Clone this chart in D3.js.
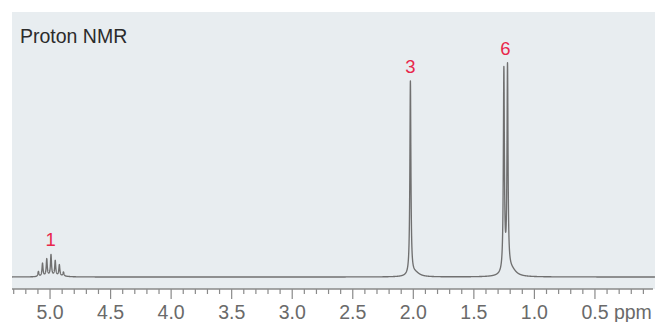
<!DOCTYPE html>
<html>
<head>
<meta charset="utf-8">
<script src="https://cdn.jsdelivr.net/npm/d3@7"></script>
<style>
  html, body { margin: 0; padding: 0; background: #ffffff; }
  svg { display: block; }
  text { font-family: "Liberation Sans", Arial, Helvetica, sans-serif; }
</style>
</head>
<body>
<svg id="chart" width="655" height="322"></svg>
<script>
// ---- Data ----
const chartTitle = "Proton NMR";
// individual resonance lines: chemical shift (ppm) and intensity (relative units)
const linePpm    = [5.092, 5.058, 5.023, 4.988, 4.953, 4.919, 4.885, 2.020, 1.248, 1.218];
const lineHeight = [5, 13, 17, 21, 15, 11, 4, 194, 202, 203];
// integration labels
const labelText = ["1", "3", "6"];
const labelPpm  = [4.99, 2.02, 1.235];
// axis ticks
const majorTicks = [5.0, 4.5, 4.0, 3.5, 3.0, 2.5, 2.0, 1.5, 1.0, 0.5];
const majorTickLabels = ["5.0", "4.5", "4.0", "3.5", "3.0", "2.5", "2.0", "1.5", "1.0", "0.5"];
const minorTicks = [5.3,5.2,5.1,4.9,4.8,4.7,4.6,4.4,4.3,4.2,4.1,3.9,3.8,3.7,3.6,3.4,3.3,3.2,3.1,
                    2.9,2.8,2.7,2.6,2.4,2.3,2.2,2.1,1.9,1.8,1.7,1.6,1.4,1.3,1.2,1.1,0.9,0.8,0.7,0.6,
                    0.4,0.3,0.2,0.1];
const axisUnit = "ppm";

// ---- Layout ----
const svg = d3.select("#chart");
const panel = { left: 12, top: 12, right: 655, bottom: 289 };
const x = d3.scaleLinear().domain([5.31, 0.0]).range([panel.left, 655]);
const y = d3.scaleLinear().domain([0, 220]).range([277, 57]);

svg.append("rect")
  .attr("x", panel.left).attr("y", panel.top)
  .attr("width", panel.right - panel.left).attr("height", panel.bottom - panel.top)
  .attr("fill", "#e8edf0");

svg.append("text")
  .attr("x", 20).attr("y", 43)
  .attr("font-size", 19.5)
  .attr("fill", "#2b2b2b")
  .text(chartTitle);

// ---- Spectrum (Lorentzian line shape with a slight upfield tail) ----
const hw = 0.0050;      // half width (ppm)
const tailOff = 0.041, tailW = 0.041, tailK = 0.02;
function intensity(p) {
  let s = 0;
  for (let i = 0; i < linePpm.length; i++) {
    const d = linePpm[i] - p; // positive toward lower ppm (to the right)
    s += lineHeight[i] / (1 + (d / hw) * (d / hw));
    const dt = (d - tailOff) / tailW;
    s += lineHeight[i] * tailK / (1 + dt * dt);
  }
  return s;
}
const samples = d3.range(5.31, 0.0, -0.0005).map(p => [p, intensity(p)]);

svg.append("path")
  .datum(samples)
  .attr("fill", "none")
  .attr("stroke", "#707070")
  .attr("stroke-width", 1.35)
  .attr("stroke-linejoin", "round")
  .attr("d", d3.line().x(d => x(d[0])).y(d => y(d[1])));

// ---- Peak labels ----
labelText.forEach((t, i) => {
  const near = samples.filter(s => Math.abs(s[0] - labelPpm[i]) < 0.15);
  const top = d3.max(near, s => s[1]);
  svg.append("text")
    .attr("x", x(labelPpm[i]))
    .attr("y", y(top) - 8)
    .attr("text-anchor", "middle")
    .attr("font-size", 18.5)
    .attr("fill", "#e8274b")
    .text(t);
});

// ---- Axis ----
const axisG = svg.append("g").attr("transform", `translate(0,${panel.bottom})`);
axisG.append("line")
  .attr("x1", panel.left).attr("x2", 653)
  .attr("y1", 0).attr("y2", 0)
  .attr("stroke", "#8a8a8a").attr("stroke-width", 1.6);

const minorAxis = d3.axisBottom(x).tickValues(minorTicks).tickSize(5).tickFormat("");
const majorAxis = d3.axisBottom(x).tickValues(majorTicks).tickSize(10).tickPadding(6)
  .tickFormat((d, i) => majorTickLabels[i]);

const gMinor = axisG.append("g").call(minorAxis);
const gMajor = axisG.append("g").call(majorAxis);
[gMinor, gMajor].forEach(g => {
  g.select(".domain").remove();
  g.selectAll(".tick line").attr("stroke", "#8a8a8a").attr("stroke-width", 1.2);
});
gMajor.selectAll(".tick text")
  .attr("font-size", 19.5)
  .attr("fill", "#6a6a6a")
  .attr("font-family", "'Liberation Sans', Arial, sans-serif")
  .attr("dy", null)
  .attr("y", 30);

// append unit to last label, keeping number centred on its tick
const lastText = gMajor.selectAll(".tick text").filter((d, i) => i === majorTicks.length - 1);
const w = lastText.node().getComputedTextLength();
lastText.attr("text-anchor", "start").attr("x", -w / 2);
lastText.append("tspan").text(" " + axisUnit);
</script>
</body>
</html>
